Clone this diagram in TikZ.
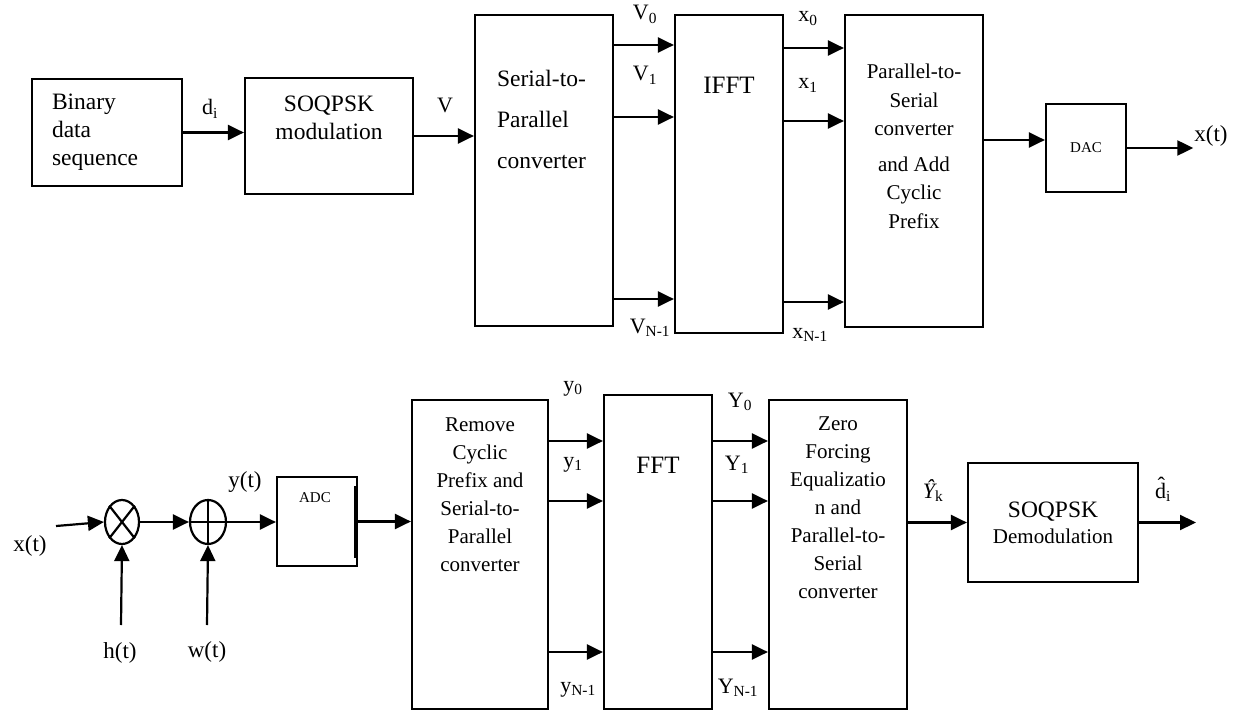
\documentclass[tikz,border=0pt]{standalone}
\usepackage{fontspec}
\setmainfont{Liberation Serif}
\usepackage{tikz}
\usetikzlibrary{shapes.geometric,arrows.meta,positioning,calc}

\begin{document}
\begin{tikzpicture}[x=1pt, y=-1pt, line width=2.2pt,
  blk/.style={draw, inner sep=0pt, align=center},
  txt/.style={inner sep=0pt, align=center, font=\fontsize{21}{28}\selectfont},
  lab/.style={inner sep=0pt, anchor=base, font=\fontsize{22}{26}\selectfont},
  sig/.style={lab, font=\fontsize{23}{26}\selectfont},
  arr/.style={-{Triangle[length=16pt,width=15pt]}},
  op/.style={draw, ellipse, inner sep=0pt, minimum width=34pt, minimum height=44pt}]
  \useasboundingbox (0,0) rectangle (1239,711);

  % Transmitter blocks
  \node[blk, minimum width=150pt, minimum height=107pt, text width=110pt, align=left,
        font=\fontsize{23.5}{28}\selectfont] (bin) at (107,132.5) {Binary\\data\\sequence};
  \node[blk, minimum width=168pt, minimum height=116pt] (mod) at (329,136) {};
  \node[txt, font=\fontsize{23.5}{28}\selectfont] at (329,118) {SOQPSK\\modulation};
  \node[blk, minimum width=138pt, minimum height=311pt] (sp) at (544,170.5) {};
  \node[txt, anchor=west, align=left, font=\fontsize{23.5}{41}\selectfont] at (496,119) {Serial-to-\\Parallel\\converter};
  \node[blk, minimum width=108pt, minimum height=318pt] (ifft) at (729,174) {};
  \node[txt, font=\fontsize{25}{30}\selectfont] at (729,85) {IFFT};
  \node[blk, minimum width=138pt, minimum height=312pt] (ps) at (914,171) {};
  \node[txt, font=\fontsize{21}{28.5}\selectfont] at (914,146.5) {Parallel-to-\\Serial\\converter\\[7pt]and Add\\Cyclic\\Prefix};
  \node[blk, minimum width=80pt, minimum height=88pt, font=\fontsize{15}{18}\selectfont] (dac) at (1086,148) {DAC};

  % Transmitter arrows
  \draw[arr] (bin.east) -- (bin.east -| mod.west);
  \draw[arr] (mod.east) -- (mod.east -| sp.west);
  \foreach \yy in {45,117,299}
    \draw[arr] (sp.east |- 0,\yy) -- (ifft.west |- 0,\yy);
  \foreach \yy in {48,121,302}
    \draw[arr] (ifft.east |- 0,\yy) -- (ps.west |- 0,\yy);
  \draw[arr] (ps.east |- 0,140) -- (dac.west |- 0,140);
  \node[sig] (xt) at (1211,142) {x(t)};
  \draw[arr] (dac.east) -- (dac.east -| xt.west);

  % Transmitter labels
  \node[lab] at (210,115) {d\textsubscript{i}};
  \node[lab] at (445,113) {V};
  \node[lab] at (645,20) {V\textsubscript{0}};
  \node[lab] at (645,81) {V\textsubscript{1}};
  \node[lab] at (650,333) {V\textsubscript{N-1}};
  \node[lab] at (808,22) {x\textsubscript{0}};
  \node[lab] at (808,89) {x\textsubscript{1}};
  \node[lab] at (810,338) {x\textsubscript{N-1}};

  % Channel
  \coordinate (xin) at (56,526);
  \coordinate (hin) at (121,625);
  \coordinate (win) at (207,625);
  \node[sig] at (30,551) {x(t)};
  \node[op] (mul) at (122,522) {};
  \draw (mul.north east) -- (mul.south west) (mul.north west) -- (mul.south east);
  \node[op, minimum width=36pt] (add) at (208,522) {};
  \draw (add.north) -- (add.south) (add.west) -- (add.east);
  \draw[arr] (xin) -- (mul.west);
  \draw[arr] (mul.east) -- (add.west);
  \draw[arr] (hin) -- (mul.south);
  \draw[arr] (win) -- (add.south);
  \node[sig] at (120,658) {h(t)};
  \node[sig] at (207,657) {w(t)};
  \node[sig] at (245,487) {y(t)};

  % Receiver blocks
  \node[blk, minimum width=80pt, minimum height=89pt] (adc) at (317,521.5) {};
  \node[txt, font=\fontsize{15}{18}\selectfont] at (315,498) {ADC};
  \draw[line width=4.5pt] ([xshift=-2pt,yshift=-10pt]adc.north east) -- ([xshift=-2pt,yshift=9pt]adc.south east);
  \node[blk, minimum width=136pt, minimum height=309pt] (rem) at (480,554.5) {};
  \node[txt] at (480,495) {Remove\\Cyclic\\Prefix and\\Serial-to-\\Parallel\\converter};
  \node[blk, minimum width=108pt, minimum height=314pt] (fft) at (658,552) {};
  \node[txt, font=\fontsize{25}{30}\selectfont] at (658,465) {FFT};
  \node[blk, minimum width=138pt, minimum height=309pt] (zf) at (838,554.5) {};
  \node[txt] at (838,508) {Zero\\Forcing\\Equalizatio\\n and\\Parallel-to-\\Serial\\converter};
  \node[blk, minimum width=170pt, minimum height=119pt, font=\fontsize{21}{26}\selectfont] (dem) at (1053,522.5)
    {{\fontsize{23.5}{26}\selectfont SOQPSK}\\Demodulation};
  \coordinate (dout) at (1196,522.5);

  % Receiver arrows
  \draw[arr] (add.east) -- (add.east -| adc.west);
  \draw[arr] (adc.east) -- (adc.east -| rem.west);
  \foreach \yy in {441,501,652} {
    \draw[arr] (rem.east |- 0,\yy) -- (fft.west |- 0,\yy);
    \draw[arr] (fft.east |- 0,\yy) -- (zf.west |- 0,\yy);
  }
  \draw[arr] (zf.east |- dem.west) -- (dem.west);
  \draw[arr] (dem.east) -- (dout);

  % Receiver labels
  \node[lab] at (573,391) {y\textsubscript{0}};
  \node[lab] at (573,467) {y\textsubscript{1}};
  \node[lab] at (578,692) {y\textsubscript{N-1}};
  \node[lab] at (740,407) {Y\textsubscript{0}};
  \node[lab] at (737,470) {Y\textsubscript{1}};
  \node[lab] at (738,693) {Y\textsubscript{N-1}};
  \node[lab] at (933,498) {{\itshape\^{Y}}\textsubscript{k}};
  \node[lab] at (1163,498) {\^{d}\textsubscript{i}};
\end{tikzpicture}
\end{document}
